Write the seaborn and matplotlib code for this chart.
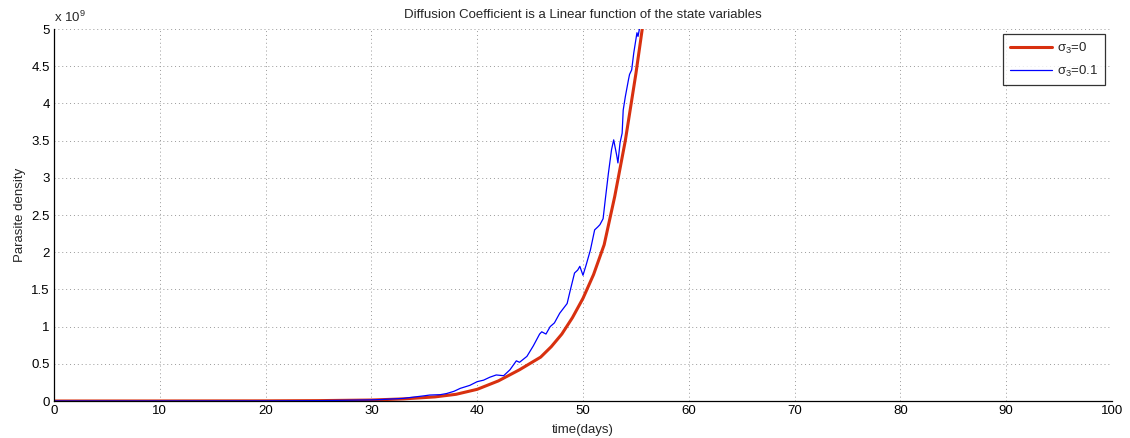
import matplotlib
matplotlib.use("Agg")
import matplotlib.pyplot as plt
import seaborn as sns
import pandas as pd

# Deterministic solution (sigma_3 = 0), parasite density in units of 1e9
t_det = [0, 10, 20, 25, 30, 33, 36, 38, 40, 42, 44, 46, 47, 48, 49, 50,
         51, 52, 53, 54, 55, 55.6, 55.9]
p_det = [0, 0.0005, 0.002, 0.005, 0.013, 0.028, 0.055, 0.09, 0.157, 0.27,
         0.42, 0.59, 0.73, 0.90, 1.12, 1.38, 1.70, 2.10, 2.75, 3.50, 4.40,
         5.0, 5.3]

# Stochastic path (sigma_3 = 0.1), units of 1e9
t_sto = [0, 10, 20, 25, 30, 31, 33, 35, 35.5, 36.5, 37.1, 37.8, 38.4, 39.3,
         40, 40.6, 41.2, 41.8, 42.5, 43.1, 43.7, 44.0, 44.7, 45.3, 45.9,
         46.1, 46.5, 46.9, 47.3, 47.8, 48.5, 48.8, 49.2, 49.5, 49.7, 50.0,
         50.3, 50.7, 51.1, 51.4, 51.6, 51.9, 52.1, 52.4, 52.7, 52.9, 53.2,
         53.3, 53.5, 53.7, 53.8, 54.0, 54.3, 54.4, 54.6, 54.8, 55.1, 55.2,
         55.4, 55.6]
p_sto = [0, 0.0005, 0.002, 0.005, 0.015, 0.02, 0.035, 0.07, 0.08, 0.085,
         0.10, 0.13, 0.17, 0.21, 0.26, 0.28, 0.32, 0.35, 0.34, 0.42, 0.54,
         0.52, 0.60, 0.74, 0.90, 0.93, 0.90, 1.00, 1.05, 1.18, 1.31, 1.49,
         1.72, 1.76, 1.81, 1.69, 1.83, 2.03, 2.30, 2.34, 2.37, 2.45, 2.70,
         3.06, 3.38, 3.51, 3.29, 3.20, 3.47, 3.60, 3.91, 4.09, 4.32, 4.39,
         4.45, 4.68, 4.95, 4.90, 5.05, 5.3]

x_ticks = list(range(0, 101, 10))
y_ticks = [0, 0.5, 1, 1.5, 2, 2.5, 3, 3.5, 4, 4.5, 5]
y_tick_labels = ["0", "0.5", "1", "1.5", "2", "2.5", "3", "3.5", "4", "4.5", "5"]

sns.set_style("white")
plt.rcParams["font.family"] = ["Liberation Sans", "DejaVu Sans"]
plt.rcParams["mathtext.fontset"] = "custom"
plt.rcParams["mathtext.rm"] = "Liberation Sans"
plt.rcParams["mathtext.it"] = "Liberation Sans"

fig = plt.figure(figsize=(11.3, 4.38), dpi=100)
ax = fig.add_axes([54 / 1130, 37 / 438, (1112 - 54) / 1130, (401 - 29) / 438])

det = pd.DataFrame({"t": t_det, "p": p_det})
sto = pd.DataFrame({"t": t_sto, "p": p_sto})

sns.lineplot(data=det, x="t", y="p", ax=ax, color="#d8300f", linewidth=2.2,
             label=r"$\sigma_3$=0", estimator=None, sort=False)
sns.lineplot(data=sto, x="t", y="p", ax=ax, color="#0000ff", linewidth=0.9,
             label=r"$\sigma_3$=0.1", estimator=None, sort=False)

ax.set_xlim(0, 100)
ax.set_ylim(0, 5)
ax.set_xticks(x_ticks)
ax.set_yticks(y_ticks)
ax.set_yticklabels(y_tick_labels)
ax.tick_params(direction="in", length=5, width=0.8, labelsize=9.5,
               colors="black", top=False, right=False, pad=3)
ax.grid(True, linestyle=(0, (1, 3)), color="#999999", linewidth=0.7)

for side in ("top", "right"):
    ax.spines[side].set_visible(False)
for side in ("left", "bottom"):
    ax.spines[side].set_color("black")
    ax.spines[side].set_linewidth(0.9)

ax.set_xlabel("time(days)", fontsize=9.5, labelpad=5)
ax.set_ylabel("Parasite density", fontsize=9.5, labelpad=4)
ax.set_title("Diffusion Coefficient is a Linear function of the state variables",
             fontsize=9.5, pad=8)
ax.text(0.0, 1.012, r"x 10$^{9}$", transform=ax.transAxes, fontsize=9.5,
        ha="left", va="bottom")

leg = ax.legend(loc="upper right", bbox_to_anchor=(0.9934, 0.987), fontsize=9.5,
                frameon=True, fancybox=False, handlelength=3.2,
                borderpad=0.5, labelspacing=0.6, handletextpad=0.4,
                borderaxespad=0)
leg.get_frame().set_edgecolor("black")
leg.get_frame().set_linewidth(0.9)

fig.savefig("out.png", dpi=100)
